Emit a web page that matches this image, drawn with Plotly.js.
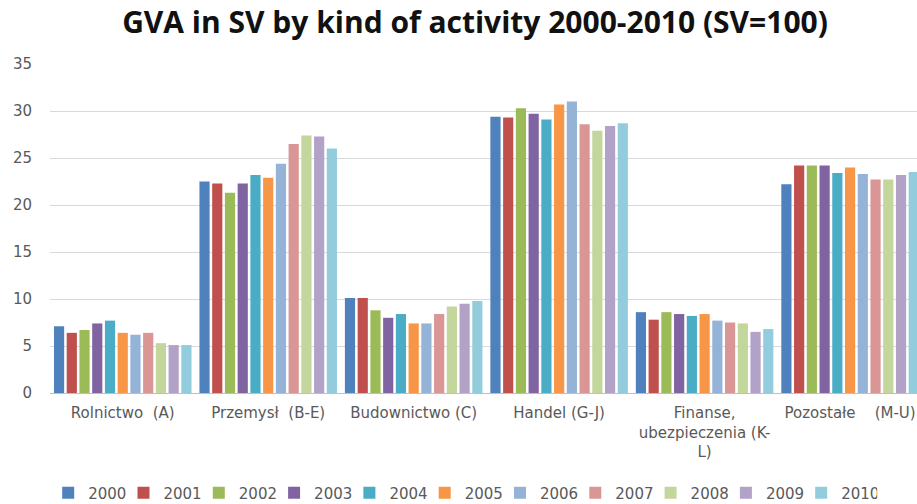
<!DOCTYPE html>
<html>
<head>
<meta charset="utf-8">
<script src="https://cdn.plot.ly/plotly-3.0.1.min.js"></script>
<style>html,body{margin:0;padding:0;background:#fff;}#chart{width:917px;height:504px;}</style>
</head>
<body>
<div id="chart"></div>
<script>
const categories = ["Rolnictwo \u00a0(A)", "Przemysł \u00a0(B-E)", "Budownictwo (C)", "Handel (G-J)", "Finanse,<br>ubezpieczenia (K-<br>L)", "Pozostałe \u00a0\u00a0\u00a0(M-U)"];
const years = ["2000","2001","2002","2003","2004","2005","2006","2007","2008","2009","2010"];
// values per year, in category order
const v2000 = [7.1, 22.5, 10.1, 29.4, 8.6, 22.2];
const v2001 = [6.4, 22.3, 10.1, 29.3, 7.8, 24.2];
const v2002 = [6.7, 21.3, 8.8, 30.3, 8.6, 24.2];
const v2003 = [7.4, 22.3, 8.0, 29.7, 8.4, 24.2];
const v2004 = [7.7, 23.2, 8.4, 29.1, 8.2, 23.4];
const v2005 = [6.4, 22.9, 7.4, 30.7, 8.4, 24.0];
const v2006 = [6.2, 24.4, 7.4, 31.0, 7.7, 23.3];
const v2007 = [6.4, 26.5, 8.4, 28.6, 7.5, 22.7];
const v2008 = [5.3, 27.4, 9.2, 27.9, 7.4, 22.7];
const v2009 = [5.1, 27.3, 9.5, 28.4, 6.5, 23.2];
const v2010 = [5.1, 26.0, 9.8, 28.7, 6.8, 23.5];
const series = [v2000, v2001, v2002, v2003, v2004, v2005, v2006, v2007, v2008, v2009, v2010];
const colors = ["#4F81BD","#C0504D","#9BBB59","#8064A2","#4BACC6","#F79646","#95B3D7","#D99694","#C3D69B","#B3A2C7","#93CDDD"];

const traces = series.map((vals, i) => ({
  type: "bar",
  name: years[i],
  x: categories,
  y: vals,
  marker: {color: colors[i], line: {width: 0}},
  hoverinfo: "skip"
}));

const font = "'DejaVu Sans', sans-serif";
const layout = {
  width: 917, height: 504,
  margin: {l: 50, r: 0, t: 64, b: 111, autoexpand: false},
  paper_bgcolor: "#fff", plot_bgcolor: "#fff",
  title: {text: "<b>GVA in SV by kind of activity 2000-2010 (SV=100)</b>", font: {family: "'Open Sans', sans-serif", size: 30, color: "#111"}, x: 0.518, xanchor: "center", y: 0.955, yanchor: "middle"},
  barmode: "group",
  bargap: 0.037,
  bargroupgap: 0.2,
  xaxis: {
    type: "category",
    range: [-0.5, 5.46],
    showgrid: false, showline: false, ticks: "",
    ticklabelstandoff: 9,
    tickfont: {family: font, size: 15, color: "#595959"},
    automargin: false
  },
  yaxis: {
    range: [0, 35], dtick: 5,
    showgrid: true, gridcolor: "#d9d9d9", gridwidth: 1,
    zeroline: true, zerolinecolor: "#bfbfbf",
    showline: false, ticks: "",
    ticklabelstandoff: 17,
    tickfont: {family: font, size: 15, color: "#595959"},
    automargin: false
  },
  showlegend: true,
  legend: {
    orientation: "h", x: 0.476, xanchor: "center", y: -0.304, yanchor: "middle",
    font: {family: font, size: 15, color: "#595959"},
    entrywidth: 30.3, entrywidthmode: "pixels",
    itemwidth: 30, traceorder: "normal"
  }
};
Plotly.newPlot("chart", traces, layout, {displayModeBar: false, staticPlot: true});
</script>
</body>
</html>
